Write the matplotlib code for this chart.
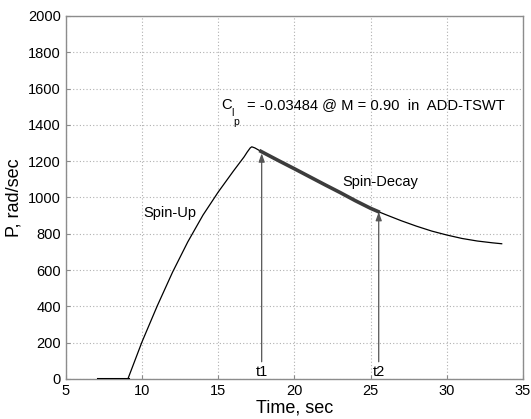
import matplotlib.pyplot as plt

plt.rcParams['font.family'] = ['Liberation Sans', 'DejaVu Sans']

# spin-up (including the flat start)
t_up = [7.1, 9.07, 10.0, 11.0, 12.0, 13.0, 14.0, 15.0, 16.0, 16.7, 16.9, 17.1, 17.2]
p_up = [0, 0, 205, 403, 588, 755, 903, 1030, 1146, 1224, 1250, 1273, 1279]

# spin-decay
t_dec = [17.2, 17.4, 17.8, 18.5, 19.0, 20.0, 21.0, 22.0, 23.0, 24.0, 25.0,
         25.5, 26.0, 27.0, 28.0, 29.0, 30.0, 31.0, 32.0, 33.0, 33.6]
p_dec = [1279, 1273, 1254, 1223, 1201, 1158, 1114, 1070, 1027, 982, 940,
         922, 905, 872, 842, 815, 793, 774, 760, 750, 745]

t1, p1 = 17.85, 1243
t2, p2 = 25.53, 920

GRID = "#b0b0b0"
AXIS = "#8c8c8c"

fig = plt.figure(figsize=(5.31, 4.19), dpi=100)
ax = fig.add_axes([0.124, 0.0955, 0.861, 0.8665])

ax.plot(t_up[:2], p_up[:2], color="black", linewidth=2.2, zorder=3)
ax.plot(t_up[1:] + t_dec[1:], p_up[1:] + p_dec[1:], color="black", linewidth=0.9, zorder=3)

# fitted segment between t1 and t2
seg = [(t, p) for t, p in zip(t_dec, p_dec) if t1 - 0.05 <= t <= t2 + 0.05]
ax.plot([s[0] for s in seg], [s[1] for s in seg], color="#3c3c3c", linewidth=2.6, zorder=4)

for tt, pp, lab in [(t1, p1, "t1"), (t2, p2, "t2")]:
    ax.annotate("", xy=(tt, pp), xytext=(tt, 95),
                arrowprops=dict(arrowstyle="-|>,head_length=0.5,head_width=0.18",
                                color="#555555", lw=0.9, shrinkA=0, shrinkB=0))
    ax.text(tt, 40, lab, ha="center", va="center", fontsize=10.5)

ax.text(11.8, 914, "Spin-Up", ha="center", va="center", fontsize=10.5)
ax.text(25.65, 1087, "Spin-Decay", ha="center", va="center", fontsize=10.5)

# C with stacked subscripts l and p (MATLAB style)
fs = 10.6
ax.text(15.2, 1510, "C", ha="left", va="center", fontsize=fs)
ax.annotate("l", xy=(15.2, 1510), xytext=(10, -8), textcoords="offset pixels",
            ha="left", va="center", fontsize=7.5)
ax.annotate("p", xy=(15.2, 1510), xytext=(12, -17), textcoords="offset pixels",
            ha="left", va="center", fontsize=7.5)
ax.text(16.86, 1510, "= -0.03484 @ M = 0.90  in  ADD-TSWT",
        ha="left", va="center", fontsize=fs)

ax.set_xlim(5, 35)
ax.set_ylim(0, 2000)
ax.set_xticks(range(5, 36, 5))
ax.set_yticks(range(0, 2001, 200))
ax.grid(True, linestyle=(0, (1, 2)), color=GRID, linewidth=0.8)
ax.tick_params(direction="in", length=3, labelsize=10.5, colors=AXIS, labelcolor="black")
for s in ax.spines.values():
    s.set_color(AXIS)
    s.set_linewidth(1.0)

ax.set_xlabel("Time, sec", fontsize=13, labelpad=1)
ax.set_ylabel("P, rad/sec", fontsize=13, labelpad=4)

fig.savefig("out.png", dpi=100)
